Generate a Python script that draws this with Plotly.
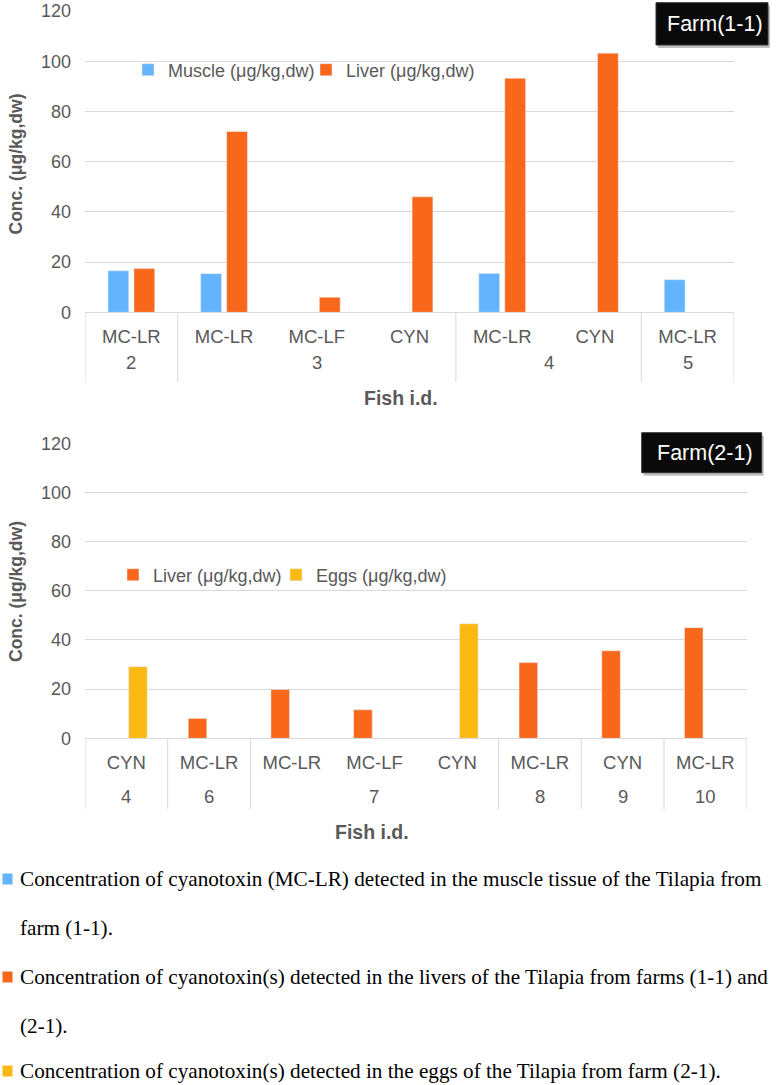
import plotly.graph_objects as go

W, H = 780, 1085

# ---------------- data ----------------
# Farm (1-1)
fish_1 = ["2", "3", "3", "3", "4", "4", "5"]
toxin_1 = ["MC-LR", "MC-LR", "MC-LF", "CYN", "MC-LR", "CYN", "MC-LR"]
muscle_1 = [16.5, 15.4, None, None, 15.5, None, 13.0]
liver_1 = [17.4, 72.0, 6.0, 46.0, 93.2, 103.2, None]

# Farm (2-1)
fish_2 = ["4", "6", "7", "7", "7", "8", "9", "10"]
toxin_2 = ["CYN", "MC-LR", "MC-LR", "MC-LF", "CYN", "MC-LR", "CYN", "MC-LR"]
liver_2 = [None, 8.1, 19.8, 11.6, None, 30.8, 35.6, 45.0]
eggs_2 = [29.1, None, None, None, 46.6, None, None, None]

y_ticks = [0, 20, 40, 60, 80, 100, 120]

series_names = ["Muscle (μg/kg,dw)", "Liver (μg/kg,dw)", "Eggs (μg/kg,dw)"]
farm_labels = ["Farm(1-1)", "Farm(2-1)"]
axis_title_y = "Conc. (μg/kg,dw)"
axis_title_x = "Fish i.d."
footnotes = [
    "Concentration of cyanotoxin (MC-LR) detected in the muscle tissue of the Tilapia from",
    "farm (1-1).",
    "Concentration of cyanotoxin(s) detected in the livers of the Tilapia from farms (1-1) and",
    "(2-1).",
    "Concentration of cyanotoxin(s) detected in the eggs of the Tilapia from farm (2-1).",
]

# ---------------- style ----------------
C_MUSCLE = "#63B3FD"
C_LIVER = "#F8671A"
C_EGGS = "#FDB913"
GRID = "#D9D9D9"
TXT = "#595959"
SANS = "Liberation Sans, Arial, Helvetica, sans-serif"
SERIF = "Liberation Serif, Times New Roman, serif"


def px_x(p):
    return p / W


def px_y(p):
    return 1 - p / H


def runs(labels):
    out = []
    start = 0
    for i in range(1, len(labels) + 1):
        if i == len(labels) or labels[i] != labels[start]:
            out.append((labels[start], start, i - 1))
            start = i
    return out


fig = go.Figure()
idx1 = list(range(len(toxin_1)))
idx2 = list(range(len(toxin_2)))

fig.add_trace(go.Bar(x=idx1, y=muscle_1, name=series_names[0], marker_color=C_MUSCLE,
                     xaxis="x", yaxis="y", legend="legend", hoverinfo="y"))
fig.add_trace(go.Bar(x=idx1, y=liver_1, name=series_names[1], marker_color=C_LIVER,
                     xaxis="x", yaxis="y", legend="legend", hoverinfo="y", legendwidth=160))
fig.add_trace(go.Bar(x=idx2, y=liver_2, name=series_names[1], marker_color=C_LIVER,
                     xaxis="x2", yaxis="y2", legend="legend2", hoverinfo="y"))
fig.add_trace(go.Bar(x=idx2, y=eggs_2, name=series_names[2], marker_color=C_EGGS,
                     xaxis="x2", yaxis="y2", legend="legend2", hoverinfo="y", legendwidth=160))

# panel geometry (pixels)
top = dict(x0=85, x1=734, y_top=11, y_zero=312.3, div_bottom=382, fish_y=363,
           title_y=398, title_x=401, ytitle_y=164)
bot = dict(x0=85, x1=746.7, y_top=443.3, y_zero=738.3, div_bottom=809, fish_y=796,
           title_y=832, title_x=372, ytitle_y=591.5)

xcommon = dict(showgrid=False, zeroline=False, showline=True, linecolor=GRID, linewidth=1,
               ticks="", automargin=False,
               tickfont=dict(family=SANS, size=18.5, color=TXT), ticklabelstandoff=7)
ycommon = dict(range=[0, 120], tickvals=y_ticks, showgrid=True, gridcolor=GRID, gridwidth=1,
               zeroline=False, showline=False, ticks="", automargin=False,
               tickfont=dict(family=SANS, size=18, color=TXT), ticklabelstandoff=13)

fig.update_layout(
    xaxis=dict(domain=[px_x(top["x0"]), px_x(top["x1"])], range=[-0.5, len(idx1) - 0.5],
               tickvals=idx1, ticktext=toxin_1, anchor="y", **xcommon),
    yaxis=dict(domain=[px_y(top["y_zero"]), px_y(top["y_top"])], anchor="x", **ycommon),
    xaxis2=dict(domain=[px_x(bot["x0"]), px_x(bot["x1"])], range=[-0.5, len(idx2) - 0.5],
                tickvals=idx2, ticktext=toxin_2, anchor="y2", **xcommon),
    yaxis2=dict(domain=[px_y(bot["y_zero"]), px_y(bot["y_top"])], anchor="x2", **ycommon),
)

shapes = []
annotations = []

for (fish, xref, geo) in [(fish_1, "x", top), (fish_2, "x2", bot)]:
    r = runs(fish)
    bounds = [s - 0.5 for (_, s, _) in r] + [r[-1][2] + 0.5]
    for b in bounds:
        shapes.append(dict(type="line", xref=xref, yref="paper", x0=b, x1=b,
                           y0=px_y(geo["y_zero"]), y1=px_y(geo["div_bottom"]),
                           line=dict(color=GRID, width=1)))
    for (lab, s, e) in r:
        annotations.append(dict(text=lab, xref=xref, yref="paper", x=(s + e) / 2,
                                y=px_y(geo["fish_y"]), xanchor="center", yanchor="middle",
                                showarrow=False, font=dict(family=SANS, size=18.5, color=TXT)))
    annotations.append(dict(text="<b>" + axis_title_x + "</b>", xref="paper", yref="paper",
                            x=px_x(geo["title_x"]), y=px_y(geo["title_y"]),
                            xanchor="center", yanchor="middle", showarrow=False,
                            font=dict(family=SANS, size=19.5, color=TXT)))
    annotations.append(dict(text="<b>" + axis_title_y + "</b>", xref="paper", yref="paper",
                            x=px_x(15.5), y=px_y(geo["ytitle_y"]), textangle=-90,
                            xanchor="center", yanchor="middle", showarrow=False,
                            font=dict(family=SANS, size=17.5, color=TXT)))

# Farm label boxes
for (lab, bx0, bx1, by0, by1) in [(farm_labels[0], 656, 768, 2.7, 45),
                                  (farm_labels[1], 641.7, 761.7, 432.7, 472.7)]:
    shapes.append(dict(type="rect", xref="paper", yref="paper",
                       x0=px_x(bx0 + 2), x1=px_x(bx1 + 2), y0=px_y(by1 + 3), y1=px_y(by0 + 3),
                       fillcolor="rgba(0,0,0,0.25)", line=dict(width=0)))
    shapes.append(dict(type="rect", xref="paper", yref="paper",
                       x0=px_x(bx0), x1=px_x(bx1), y0=px_y(by1), y1=px_y(by0),
                       fillcolor="#0A0A0A", line=dict(color="#333333", width=1)))
    annotations.append(dict(text=lab, xref="paper", yref="paper",
                            x=px_x((bx0 + bx1) / 2 + 3), y=px_y((by0 + by1) / 2),
                            xanchor="center", yanchor="middle", showarrow=False,
                            font=dict(family=SANS, size=21.5, color="white")))

# Footnotes
foot_y = [879, 928, 977, 1026, 1071]
foot_marker = [C_MUSCLE, None, C_LIVER, None, C_EGGS]
for txt, yy, mc in zip(footnotes, foot_y, foot_marker):
    annotations.append(dict(text=txt, xref="paper", yref="paper", x=px_x(19), y=px_y(yy),
                            xanchor="left", yanchor="middle", showarrow=False, borderpad=0,
                            font=dict(family=SERIF, size=21.2, color="black")))
    if mc:
        shapes.append(dict(type="rect", xref="paper", yref="paper",
                           x0=px_x(2.5), x1=px_x(12.5), y0=px_y(yy + 5.5), y1=px_y(yy - 5.5),
                           fillcolor=mc, line=dict(width=0)))

fig.update_layout(
    width=W, height=H, autosize=False,
    margin=dict(l=0, r=0, t=0, b=0, autoexpand=False),
    paper_bgcolor="white", plot_bgcolor="white",
    barmode="group", bargap=0.44, bargroupgap=0.2,
    shapes=shapes, annotations=annotations,
    legend=dict(orientation="h", x=px_x(128), y=px_y(70), xanchor="left", yanchor="middle",
                entrywidth=133, entrywidthmode="pixels", bgcolor="rgba(0,0,0,0)",
                font=dict(family=SANS, size=18, color=TXT)),
    legend2=dict(orientation="h", x=px_x(113), y=px_y(575), xanchor="left", yanchor="middle",
                 entrywidth=118, entrywidthmode="pixels", bgcolor="rgba(0,0,0,0)",
                 font=dict(family=SANS, size=18, color=TXT)),
)

fig.write_html("out.html", config={"displayModeBar": False},
               post_script="document.body.style.margin='0px';document.body.style.overflow='hidden';")
